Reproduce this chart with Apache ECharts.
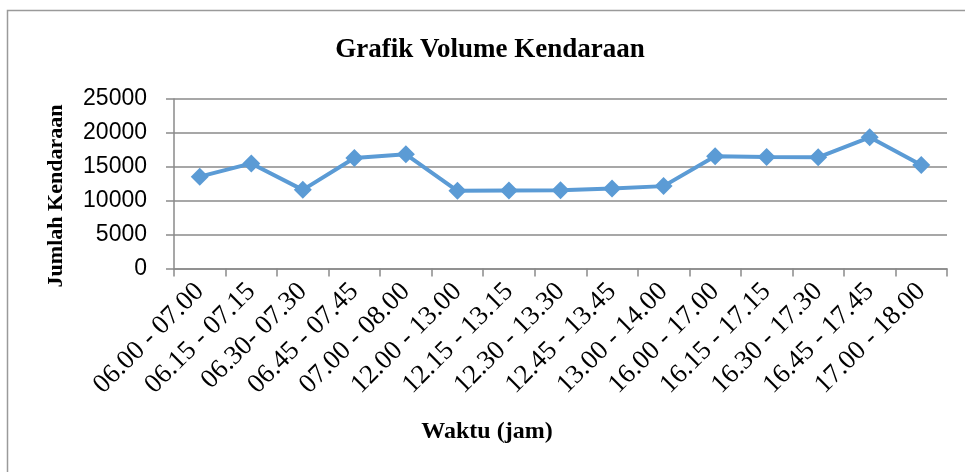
<!DOCTYPE html>
<html>
<head>
    <meta charset="utf-8">
    <title>Grafik Volume Kendaraan</title>
    <script src="https://cdn.jsdelivr.net/npm/echarts@6/dist/echarts.min.js"></script>
    <style>
        html, body { margin: 0; padding: 0; background: #fff; }
        #main { width: 965px; height: 472px; }
    </style>
</head>
<body>
<div id="main"></div>
<script>
    // data
    var waktu = ['06.00 - 07.00', '06.15 - 07.15', '06.30- 07.30', '06.45 - 07.45', '07.00 - 08.00',
        '12.00 - 13.00', '12.15 - 13.15', '12.30 - 13.30', '12.45 - 13.45', '13.00 - 14.00',
        '16.00 - 17.00', '16.15 - 17.15', '16.30 - 17.30', '16.45 - 17.45', '17.00 - 18.00'];
    var jumlah = [13550, 15500, 11600, 16300, 16850, 11450, 11500, 11550, 11800, 12150,
        16550, 16450, 16400, 19350, 15250];
    var yTicks = [0, 5000, 10000, 15000, 20000, 25000];

    var grey = '#8a8a8a';
    var chart = echarts.init(document.getElementById('main'));
    var option = {
        animation: false,
        grid: { left: 174, right: 18, top: 99, bottom: 203.5, containLabel: false },
        graphic: [
            {
                type: 'rect',
                shape: { x: 7.5, y: 10.5, width: 1000, height: 500 },
                style: { fill: 'none', stroke: '#9a9a9a', lineWidth: 1.5 }
            },
            {
                type: 'text', x: 490, y: 50,
                style: {
                    text: 'Grafik Volume Kendaraan', fill: '#000', align: 'center', verticalAlign: 'middle',
                    font: 'bold 27px Liberation Serif'
                }
            },
            {
                type: 'text', x: 487, y: 432,
                style: {
                    text: 'Waktu (jam)', fill: '#000', align: 'center', verticalAlign: 'middle',
                    font: 'bold 24px Liberation Serif'
                }
            },
            {
                type: 'text', x: 56, y: 196, rotation: Math.PI / 2,
                style: {
                    text: 'Jumlah Kendaraan', fill: '#000', align: 'center', verticalAlign: 'middle',
                    font: 'bold 22px Liberation Serif'
                }
            }
        ],
        xAxis: {
            type: 'category',
            data: waktu,
            boundaryGap: true,
            axisLine: { lineStyle: { color: grey, width: 1.5 } },
            axisTick: { show: true, length: 8, alignWithLabel: false, lineStyle: { color: grey, width: 1.5 } },
            axisLabel: {
                interval: 0, rotate: 45, margin: 19, color: '#000',
                fontFamily: 'Liberation Serif', fontSize: 27
            }
        },
        yAxis: {
            type: 'value',
            min: 0, max: 25000, interval: 5000,
            axisLine: { show: true, lineStyle: { color: grey, width: 1.5 } },
            axisTick: { show: true, length: 8, lineStyle: { color: grey, width: 1.5 } },
            splitLine: { lineStyle: { color: grey, width: 1.5 } },
            axisLabel: {
                margin: 27, color: '#000', fontFamily: 'Liberation Sans', fontSize: 23,
                formatter: function (v) { return yTicks.indexOf(v) >= 0 ? String(v) : ''; }
            }
        },
        series: [{
            type: 'line',
            data: jumlah,
            symbol: 'diamond',
            symbolSize: 18,
            lineStyle: { color: '#5b9bd5', width: 4 },
            itemStyle: { color: '#5b9bd5' }
        }]
    };
    chart.setOption(option);
</script>
</body>
</html>
